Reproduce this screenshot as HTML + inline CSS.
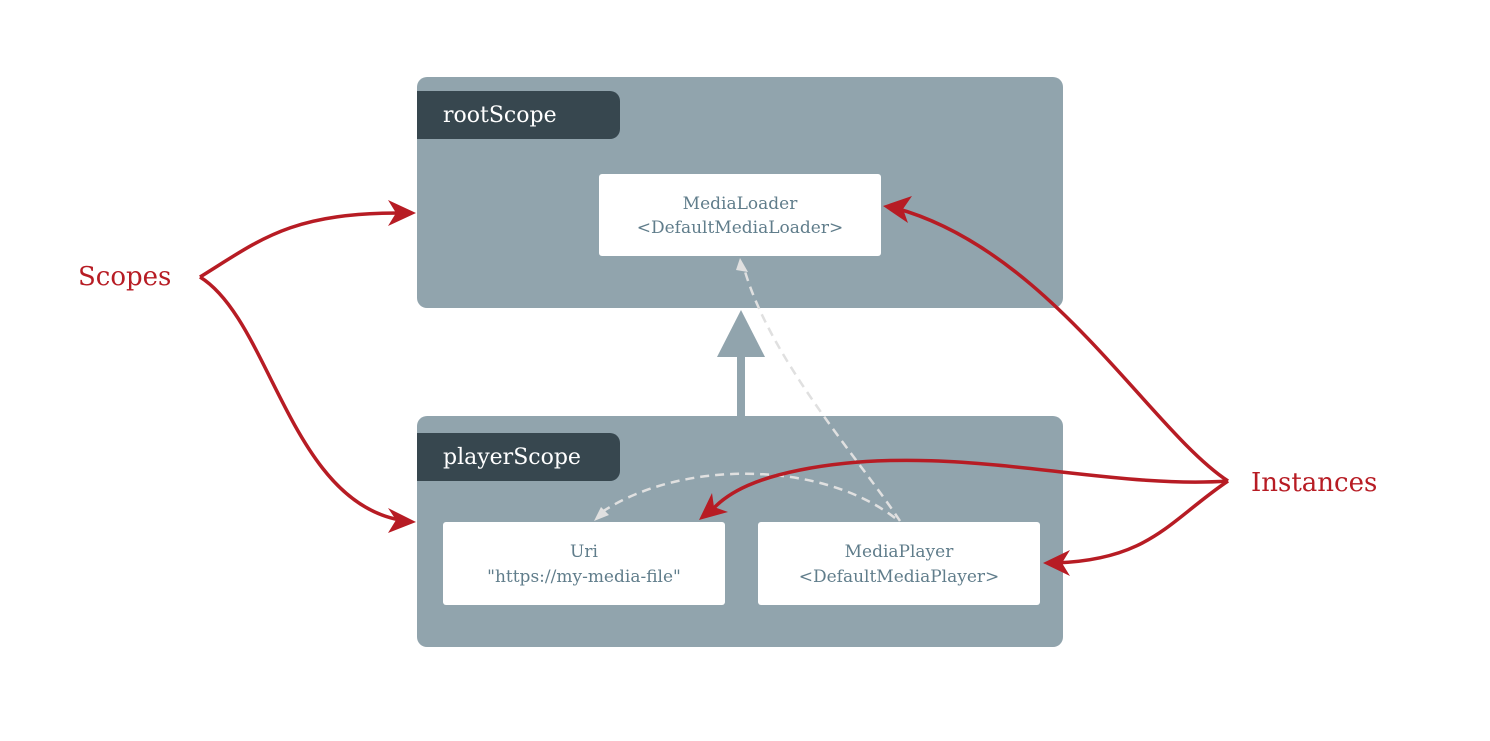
<!DOCTYPE html>
<html><head><meta charset="utf-8"><style>
body{margin:0;background:#fff;}
svg text{font-family:"DejaVu Serif","Liberation Serif",serif;}
</style></head><body>
<svg width="1490" height="736" viewBox="0 0 1490 736" xmlns="http://www.w3.org/2000/svg">
<defs>
<marker id="ra" viewBox="0 0 10 10" refX="9" refY="5" markerWidth="10" markerHeight="10" markerUnits="userSpaceOnUse" orient="auto">
</marker>
</defs>
<rect x="417" y="77" width="646" height="231" rx="10" fill="#91a4ad"/>
<path d="M417 91 H610 a10 10 0 0 1 10 10 V129 a10 10 0 0 1 -10 10 H417 Z" fill="#37474f"/>
<text x="443" y="122" font-size="22" fill="#fff">rootScope</text>
<rect x="599" y="174" width="282" height="82" rx="3" fill="#fff"/>
<text x="740" y="209" font-size="17" fill="#607d8b" text-anchor="middle">MediaLoader</text>
<text x="740" y="233" font-size="17" fill="#607d8b" text-anchor="middle">&lt;DefaultMediaLoader&gt;</text>

<rect x="417" y="416" width="646" height="231" rx="10" fill="#91a4ad"/>
<path d="M417 433 H610 a10 10 0 0 1 10 10 V471 a10 10 0 0 1 -10 10 H417 Z" fill="#37474f"/>
<text x="443" y="464" font-size="22" fill="#fff">playerScope</text>
<rect x="443" y="522" width="282" height="83" rx="3" fill="#fff"/>
<text x="584" y="557" font-size="17" fill="#607d8b" text-anchor="middle">Uri</text>
<text x="584" y="582" font-size="17" fill="#607d8b" text-anchor="middle">"https://my-media-file"</text>
<rect x="758" y="522" width="282" height="83" rx="3" fill="#fff"/>
<text x="899" y="557" font-size="17" fill="#607d8b" text-anchor="middle">MediaPlayer</text>
<text x="899" y="582" font-size="17" fill="#607d8b" text-anchor="middle">&lt;DefaultMediaPlayer&gt;</text>

<rect x="737" y="355" width="8" height="61" fill="#91a4ad"/>
<polygon points="741,310 765,357 717,357" fill="#91a4ad"/>

<path d="M900 521 C860 460 770 360 744 268" fill="none" stroke="#e0e0e0" stroke-width="2.5" stroke-dasharray="9,6"/>
<polygon points="740,258 748,272 736,270" fill="#e0e0e0"/>
<path d="M895 518 C820 460 680 460 602 512" fill="none" stroke="#e0e0e0" stroke-width="2.5" stroke-dasharray="9,6"/>
<polygon points="594,521 601,507 609,515" fill="#e0e0e0"/>

<g fill="none" stroke="#b71c24" stroke-width="3.5">
<path d="M200 277 C260 240 290 213 400 213"/>
<path d="M200 277 C270 320 290 500 400 520"/>
<path d="M1228 481 C1150 430 1050 250 895 208"/>
<path d="M1228 481 C1170 520 1150 560 1055 563"/>
<path d="M1228 481 C1100 490 950 440 800 470 C760 478 730 490 712 510"/>
</g>
<g fill="#b71c24">
<polygon points="416,213 388,200 396,213 388,226"/>
<polygon points="416,522 388,508 396,520 388,533"/>
<polygon points="883,206 912,196 903,209 908,223"/>
<polygon points="1043,563 1070,550 1062,563 1070,576"/>
<polygon points="699,520 712,493 714,507 728,512"/>
</g>
<text x="78" y="285" font-size="26" fill="#b71c24">Scopes</text>
<text x="1251" y="491" font-size="26" fill="#b71c24">Instances</text>
</svg>
</body></html>
